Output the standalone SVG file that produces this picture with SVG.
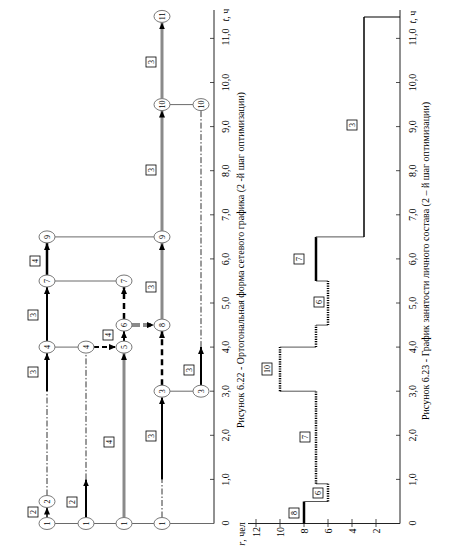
<svg xmlns="http://www.w3.org/2000/svg" width="450" height="547" viewBox="0 0 450 547">
<defs>
<marker id="ah" markerUnits="userSpaceOnUse" markerWidth="8" markerHeight="6" refX="7" refY="3" orient="auto"><path d="M0,0 L7,3 L0,6 z" fill="#000"/></marker>
<style>
text{font-family:"Liberation Serif","Times New Roman",serif;fill:#000}
.ax{stroke:#222;stroke-width:1;fill:none}
.tk{stroke:#222;stroke-width:0.8}
.al{font-size:10px}
.nd ellipse{fill:#fff;stroke:#777;stroke-width:1}
.nd text{font-size:8px}
.bx rect{fill:#fff;stroke:#000;stroke-width:0.8}
.bx text{font-size:8px}
.thin{stroke:#444;stroke-width:0.8;fill:none}
.dd{stroke:#000;stroke-width:0.8;stroke-dasharray:6 2 1.5 2;fill:none}
.blk{stroke:#000;stroke-width:2;fill:none}
.crit{stroke:#8a8a8a;stroke-width:3;fill:none}
.dsh{stroke:#000;stroke-width:2.5;stroke-dasharray:6 4;fill:none}
.dot{stroke:#000;stroke-width:2.5;stroke-dasharray:1.2 1.2;fill:none}
.stp{stroke:#555;stroke-width:1;fill:none}
.cap{font-size:10px}
</style>
</defs>

<!-- Top chart axis -->
<g id="axis-top">
<line class="ax" x1="214" y1="523.5" x2="214" y2="10"/>
<g class="tk">
<line x1="210" y1="479.4" x2="214" y2="479.4"/><line x1="210" y1="435.3" x2="214" y2="435.3"/><line x1="210" y1="391.2" x2="214" y2="391.2"/><line x1="210" y1="347.1" x2="214" y2="347.1"/><line x1="210" y1="303" x2="214" y2="303"/><line x1="210" y1="258.9" x2="214" y2="258.9"/><line x1="210" y1="214.8" x2="214" y2="214.8"/><line x1="210" y1="170.7" x2="214" y2="170.7"/><line x1="210" y1="126.6" x2="214" y2="126.6"/><line x1="210" y1="82.5" x2="214" y2="82.5"/><line x1="210" y1="38.4" x2="214" y2="38.4"/>
</g>
<g class="al" text-anchor="middle">
<text transform="translate(225,523) rotate(-90)" y="3.5">0</text>
<text transform="translate(225,479.4) rotate(-90)" y="3.5">1,0</text>
<text transform="translate(225,435.3) rotate(-90)" y="3.5">2,0</text>
<text transform="translate(225,391.2) rotate(-90)" y="3.5">3,0</text>
<text transform="translate(225,347.1) rotate(-90)" y="3.5">4,0</text>
<text transform="translate(225,303) rotate(-90)" y="3.5">5,0</text>
<text transform="translate(225,258.9) rotate(-90)" y="3.5">6,0</text>
<text transform="translate(225,214.8) rotate(-90)" y="3.5">7,0</text>
<text transform="translate(225,170.7) rotate(-90)" y="3.5">8,0</text>
<text transform="translate(225,126.6) rotate(-90)" y="3.5">9,0</text>
<text transform="translate(225,82.5) rotate(-90)" y="3.5">10,0</text>
<text transform="translate(225,37) rotate(-90)" y="3.5">11,0</text>
<text transform="translate(225,15) rotate(-90)" y="3.5"><tspan font-style="italic">t</tspan>, ч</text>
</g>
</g>

<!-- Connectors -->
<g id="connectors">
<line class="thin" x1="47" y1="523.5" x2="214" y2="523.5"/>
<line class="thin" x1="55" y1="347.1" x2="78" y2="347.1"/>
<line class="thin" x1="55" y1="281" x2="116" y2="281"/>
<line class="thin" x1="55" y1="236.9" x2="154" y2="236.9"/>
<line class="thin" x1="170" y1="391.2" x2="193" y2="391.2"/>
<line class="thin" x1="170" y1="104.6" x2="193" y2="104.6"/>
<!-- row A -->
<line class="blk" style="stroke-width:1.5" x1="47" y1="517.5" x2="47" y2="507.5" marker-end="url(#ah)"/>
<line class="dd" x1="47" y1="495.5" x2="47" y2="391.2"/>
<line class="blk" x1="47" y1="391.2" x2="47" y2="353.1" marker-end="url(#ah)"/>
<line class="blk" x1="47" y1="341.1" x2="47" y2="287" marker-end="url(#ah)"/>
<line class="blk" style="stroke-width:2.5" x1="47" y1="275" x2="47" y2="242.9" marker-end="url(#ah)"/>
<!-- row B -->
<line class="blk" x1="86" y1="517.5" x2="86" y2="479.4" marker-end="url(#ah)"/>
<line class="dd" x1="86" y1="479.4" x2="86" y2="353.1"/>
<line class="blk" style="stroke-dasharray:5 3" x1="94" y1="347.1" x2="116" y2="347.1" marker-end="url(#ah)"/>
<!-- row C -->
<line class="crit" x1="124" y1="517.5" x2="124" y2="353.1" marker-end="url(#ah)"/>
<line class="blk" x1="124" y1="341.1" x2="124" y2="331.1" marker-end="url(#ah)"/>
<line class="dsh" x1="124" y1="319.1" x2="124" y2="287" marker-end="url(#ah)"/>
<line class="crit" style="stroke-width:4;stroke-dasharray:8 3" x1="132" y1="325.1" x2="154" y2="325.1" marker-end="url(#ah)"/>
<!-- row D -->
<line class="dd" x1="162" y1="517.5" x2="162" y2="479.4"/>
<line class="blk" x1="162" y1="479.4" x2="162" y2="397.2" marker-end="url(#ah)"/>
<line class="dsh" x1="162" y1="385.2" x2="162" y2="331.1" marker-end="url(#ah)"/>
<line class="crit" x1="162" y1="319.1" x2="162" y2="242.9" marker-end="url(#ah)"/>
<line class="crit" x1="162" y1="230.9" x2="162" y2="110.6" marker-end="url(#ah)"/>
<line class="crit" x1="162" y1="98.6" x2="162" y2="22.4" marker-end="url(#ah)"/>
<!-- row E -->
<line class="blk" x1="201" y1="385.2" x2="201" y2="347.1" marker-end="url(#ah)"/>
<line class="dd" x1="201" y1="347.1" x2="201" y2="110.6"/>
</g>

<!-- Nodes -->
<g id="nA1" class="nd"><ellipse cx="47" cy="523.5" rx="8" ry="6"/><text transform="translate(47,523.5) rotate(-90)" y="2.8" text-anchor="middle">1</text></g>
<g id="nA2" class="nd"><ellipse cx="47" cy="501.5" rx="8" ry="6"/><text transform="translate(47,501.5) rotate(-90)" y="2.8" text-anchor="middle">2</text></g>
<g id="nA4" class="nd"><ellipse cx="47" cy="347.1" rx="8" ry="6"/><text transform="translate(47,347.1) rotate(-90)" y="2.8" text-anchor="middle">4</text></g>
<g id="nA7" class="nd"><ellipse cx="47" cy="281" rx="8" ry="6"/><text transform="translate(47,281) rotate(-90)" y="2.8" text-anchor="middle">7</text></g>
<g id="nA9" class="nd"><ellipse cx="47" cy="236.9" rx="8" ry="6"/><text transform="translate(47,236.9) rotate(-90)" y="2.8" text-anchor="middle">9</text></g>
<g id="nB1" class="nd"><ellipse cx="86" cy="523.5" rx="8" ry="6"/><text transform="translate(86,523.5) rotate(-90)" y="2.8" text-anchor="middle">1</text></g>
<g id="nB4" class="nd"><ellipse cx="86" cy="347.1" rx="8" ry="6"/><text transform="translate(86,347.1) rotate(-90)" y="2.8" text-anchor="middle">4</text></g>
<g id="nC1" class="nd"><ellipse cx="124" cy="523.5" rx="8" ry="6"/><text transform="translate(124,523.5) rotate(-90)" y="2.8" text-anchor="middle">1</text></g>
<g id="nC5" class="nd"><ellipse cx="124" cy="347.1" rx="8" ry="6"/><text transform="translate(124,347.1) rotate(-90)" y="2.8" text-anchor="middle">5</text></g>
<g id="nC6" class="nd"><ellipse cx="124" cy="325.1" rx="8" ry="6"/><text transform="translate(124,325.1) rotate(-90)" y="2.8" text-anchor="middle">6</text></g>
<g id="nC7" class="nd"><ellipse cx="124" cy="281" rx="8" ry="6"/><text transform="translate(124,281) rotate(-90)" y="2.8" text-anchor="middle">7</text></g>
<g id="nD1" class="nd"><ellipse cx="162" cy="523.5" rx="8" ry="6"/><text transform="translate(162,523.5) rotate(-90)" y="2.8" text-anchor="middle">1</text></g>
<g id="nD3" class="nd"><ellipse cx="162" cy="391.2" rx="8" ry="6"/><text transform="translate(162,391.2) rotate(-90)" y="2.8" text-anchor="middle">3</text></g>
<g id="nD8" class="nd"><ellipse cx="162" cy="325.1" rx="8" ry="6"/><text transform="translate(162,325.1) rotate(-90)" y="2.8" text-anchor="middle">8</text></g>
<g id="nD9" class="nd"><ellipse cx="162" cy="236.9" rx="8" ry="6"/><text transform="translate(162,236.9) rotate(-90)" y="2.8" text-anchor="middle">9</text></g>
<g id="nD10" class="nd"><ellipse cx="162" cy="104.6" rx="8" ry="6"/><text transform="translate(162,104.6) rotate(-90)" y="2.8" text-anchor="middle">10</text></g>
<g id="nD11" class="nd"><ellipse cx="162" cy="16.4" rx="8" ry="6"/><text transform="translate(162,16.4) rotate(-90)" y="2.8" text-anchor="middle">11</text></g>
<g id="nE3" class="nd"><ellipse cx="201" cy="391.2" rx="8" ry="6"/><text transform="translate(201,391.2) rotate(-90)" y="2.8" text-anchor="middle">3</text></g>
<g id="nE10" class="nd"><ellipse cx="201" cy="104.6" rx="8" ry="6"/><text transform="translate(201,104.6) rotate(-90)" y="2.8" text-anchor="middle">10</text></g>

<!-- Edge labels -->
<g id="labels" class="bx" text-anchor="middle">
<rect x="28" y="507" width="10" height="10"/><text transform="translate(33,512) rotate(-90)" y="2.8">2</text>
<rect x="28" y="367" width="10" height="10"/><text transform="translate(33,372) rotate(-90)" y="2.8">3</text>
<rect x="28" y="310" width="10" height="10"/><text transform="translate(33,315) rotate(-90)" y="2.8">3</text>
<rect x="30" y="256" width="10" height="10"/><text transform="translate(35,261) rotate(-90)" y="2.8">4</text>
<rect x="67" y="497" width="10" height="10"/><text transform="translate(72,502) rotate(-90)" y="2.8">2</text>
<rect x="104" y="437" width="10" height="10"/><text transform="translate(109,442) rotate(-90)" y="2.8">4</text>
<rect x="103" y="330" width="10" height="10"/><text transform="translate(108,335) rotate(-90)" y="2.8">4</text>
<rect x="146" y="431" width="10" height="10"/><text transform="translate(151,436) rotate(-90)" y="2.8">3</text>
<rect x="146" y="282" width="10" height="10"/><text transform="translate(151,287) rotate(-90)" y="2.8">3</text>
<rect x="146" y="165" width="10" height="10"/><text transform="translate(151,170) rotate(-90)" y="2.8">3</text>
<rect x="146" y="57" width="10" height="10"/><text transform="translate(151,62) rotate(-90)" y="2.8">3</text>
<rect x="184" y="365" width="10" height="10"/><text transform="translate(189,370) rotate(-90)" y="2.8">3</text>
</g>

<text class="cap" transform="translate(240,260) rotate(-90)" y="3.5" text-anchor="middle">Рисунок 6.22 - Ортогональная форма сетевого графика (2 -й шаг оптимизации)</text>

<!-- Bottom chart -->
<g id="axis-bottom">
<line class="ax" x1="400" y1="523.5" x2="400" y2="10"/>
<line class="ax" x1="248" y1="523.5" x2="400" y2="523.5"/>
<g class="tk">
<line x1="396" y1="479.4" x2="400" y2="479.4"/><line x1="396" y1="435.3" x2="400" y2="435.3"/><line x1="396" y1="391.2" x2="400" y2="391.2"/><line x1="396" y1="347.1" x2="400" y2="347.1"/><line x1="396" y1="303" x2="400" y2="303"/><line x1="396" y1="258.9" x2="400" y2="258.9"/><line x1="396" y1="214.8" x2="400" y2="214.8"/><line x1="396" y1="170.7" x2="400" y2="170.7"/><line x1="396" y1="126.6" x2="400" y2="126.6"/><line x1="396" y1="82.5" x2="400" y2="82.5"/><line x1="396" y1="38.4" x2="400" y2="38.4"/>
<line x1="256" y1="519" x2="256" y2="527"/><line x1="280" y1="519" x2="280" y2="527"/><line x1="304" y1="519" x2="304" y2="527"/><line x1="328" y1="519" x2="328" y2="527"/><line x1="352" y1="519" x2="352" y2="527"/><line x1="376" y1="519" x2="376" y2="527"/>
</g>
<g class="al" text-anchor="middle">
<text transform="translate(412,523) rotate(-90)" y="3.5">0</text>
<text transform="translate(412,479.4) rotate(-90)" y="3.5">1,0</text>
<text transform="translate(412,435.3) rotate(-90)" y="3.5">2,0</text>
<text transform="translate(412,391.2) rotate(-90)" y="3.5">3,0</text>
<text transform="translate(412,347.1) rotate(-90)" y="3.5">4,0</text>
<text transform="translate(412,303) rotate(-90)" y="3.5">5,0</text>
<text transform="translate(412,258.9) rotate(-90)" y="3.5">6,0</text>
<text transform="translate(412,214.8) rotate(-90)" y="3.5">7,0</text>
<text transform="translate(412,170.7) rotate(-90)" y="3.5">8,0</text>
<text transform="translate(412,126.6) rotate(-90)" y="3.5">9,0</text>
<text transform="translate(412,82.5) rotate(-90)" y="3.5">10,0</text>
<text transform="translate(412,37) rotate(-90)" y="3.5">11,0</text>
<text transform="translate(412,17) rotate(-90)" y="3.5"><tspan font-style="italic">t</tspan>, ч</text>
<text transform="translate(256,532) rotate(-90)" y="3.5">12</text>
<text transform="translate(280,532) rotate(-90)" y="3.5">10</text>
<text transform="translate(304,531) rotate(-90)" y="3.5">8</text>
<text transform="translate(328,531) rotate(-90)" y="3.5">6</text>
<text transform="translate(352,531) rotate(-90)" y="3.5">4</text>
<text transform="translate(376,531) rotate(-90)" y="3.5">2</text>
<text transform="translate(241,534) rotate(-90)" y="3.5"><tspan font-style="italic">r</tspan>, чел</text>
</g>
</g>

<g id="staircase">
<line class="blk" style="stroke-width:2.5" x1="304" y1="523.5" x2="304" y2="501.5"/>
<line class="stp" x1="304" y1="501.5" x2="328" y2="501.5"/>
<line class="dot" x1="328" y1="501.5" x2="328" y2="483.8"/>
<line class="stp" x1="328" y1="483.8" x2="316" y2="483.8"/>
<line class="dot" x1="316" y1="483.8" x2="316" y2="391.2"/>
<line class="stp" x1="316" y1="391.2" x2="280" y2="391.2"/>
<line class="dot" x1="280" y1="391.2" x2="280" y2="347.1"/>
<line class="stp" x1="280" y1="347.1" x2="316" y2="347.1"/>
<line class="dot" x1="316" y1="347.1" x2="316" y2="325.1"/>
<line class="stp" x1="316" y1="325.1" x2="328" y2="325.1"/>
<line class="dot" x1="328" y1="325.1" x2="328" y2="281"/>
<line class="stp" x1="328" y1="281" x2="316" y2="281"/>
<line class="blk" style="stroke-width:2.5" x1="316" y1="281" x2="316" y2="236.9"/>
<line class="stp" x1="316" y1="236.9" x2="364" y2="236.9"/>
<line class="blk" style="stroke-width:1.5" x1="364" y1="236.9" x2="364" y2="17"/>
<line class="blk" style="stroke-width:1.2" x1="364" y1="17" x2="400" y2="17"/>
</g>
<g id="staircase-labels" class="bx" text-anchor="middle">
<rect x="289" y="508" width="10" height="10"/><text transform="translate(294,513) rotate(-90)" y="2.8">8</text>
<rect x="313" y="488" width="10" height="10"/><text transform="translate(318,493) rotate(-90)" y="2.8">6</text>
<rect x="300" y="432" width="10" height="10"/><text transform="translate(305,437) rotate(-90)" y="2.8">7</text>
<rect x="262" y="363" width="10" height="12"/><text transform="translate(267,369) rotate(-90)" y="2.8">10</text>
<rect x="314" y="297" width="10" height="10"/><text transform="translate(319,302) rotate(-90)" y="2.8">6</text>
<rect x="294" y="254" width="10" height="10"/><text transform="translate(299,259) rotate(-90)" y="2.8">7</text>
<rect x="347" y="120" width="10" height="10"/><text transform="translate(352,125) rotate(-90)" y="2.8">3</text>
</g>

<text class="cap" transform="translate(425,261) rotate(-90)" y="3.5" text-anchor="middle">Рисунок 6.23 - График занятости личного состава (2 – й шаг оптимизации)</text>
</svg>
